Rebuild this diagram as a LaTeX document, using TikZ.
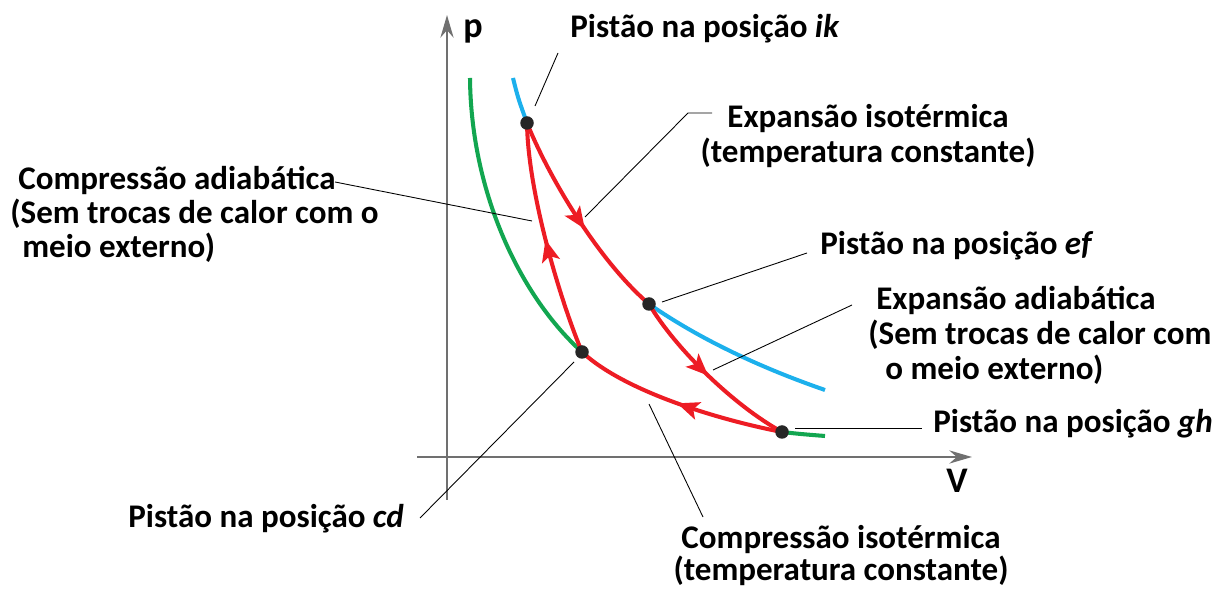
\documentclass[tikz,border=0pt]{standalone}
\usepackage{fontspec}
\setmainfont{Carlito}
\usepackage{xcolor}
\definecolor{CycleRed}{HTML}{ED1C24}
\definecolor{HotBlue}{HTML}{1CB0EC}
\definecolor{ColdGreen}{HTML}{12A650}
\definecolor{AxisGray}{HTML}{707070}
\usetikzlibrary{arrows.meta, positioning, decorations.markings}
\tikzset{
  axisline/.style={draw=AxisGray, line width=1.7pt, -{Stealth[length=0.45cm, width=0.26cm]}},
  hotline/.style={draw=HotBlue, line width=2.3pt},
  coldline/.style={draw=ColdGreen, line width=2.3pt},
  cycleline/.style={color=CycleRed, line width=2.3pt, postaction={decorate},
    decoration={markings, mark=at position #1 with {\arrow{Stealth[length=0.44cm, width=0.36cm, inset=0.1cm]}}}},
  cycleline/.default=0.5,
  leader/.style={draw=black, line width=0.5pt},
  statedot/.style={circle, fill=black!85, inner sep=0pt, minimum size=0.27cm},
  labeltext/.style={font=\fontsize{18.8}{19.3}\selectfont\bfseries, inner sep=0pt, text=black},
  widetext/.style={labeltext, font=\fontsize{18.8}{19.9}\selectfont\bfseries},
  axislabel/.style={font=\fontsize{20.5}{24}\selectfont\bfseries, inner sep=0pt}
}

\begin{document}
\begin{tikzpicture}[x=0.02cm, y=-0.02cm]
  \useasboundingbox (0,0) rectangle (1217,590);

  \coordinate (yBot) at (447,500);
  \coordinate (yTop) at (447,15);
  \coordinate (xLeft) at (417,457);
  \coordinate (xRight) at (972,457);
  \draw[axisline] (yBot) -- (yTop);
  \draw[axisline] (xLeft) -- (xRight);
  \node[axislabel, anchor=base west] (plbl) at (463,38) {p};
  \node[axislabel, anchor=base west] (vlbl) at (946,493) {V};

  \coordinate (ik) at (527,123);
  \coordinate (ef) at (649,304);
  \coordinate (gh) at (782,432);
  \coordinate (cd) at (582,352);
  \coordinate (hotTop) at (513,78);
  \coordinate (hotEnd) at (825,390);
  \coordinate (coldTop) at (470,78);
  \coordinate (coldEnd) at (825,436);

  \draw[hotline] (hotTop) .. controls (518,98) .. (ik);
  \draw[hotline] (ef) .. controls (705,343) and (770,371) .. (hotEnd);
  \draw[coldline] (coldTop) .. controls (471,195) and (522,298) .. (cd);
  \draw[coldline] (gh) .. controls (800,434) .. (coldEnd);

  \draw[cycleline=0.55] (ik) .. controls (550,180) and (600,262) .. (ef);
  \draw[cycleline=0.5] (ef) .. controls (675,348) and (733,405) .. (gh);
  \draw[cycleline=0.5] (gh) .. controls (720,420) and (625,392) .. (cd);
  \draw[cycleline=0.5] (cd) .. controls (562,305) and (528,195) .. (ik);

  \node[statedot] (ikdot) at (ik) {};
  \node[statedot] (efdot) at (ef) {};
  \node[statedot] (ghdot) at (gh) {};
  \node[statedot] (cddot) at (cd) {};

  \node[labeltext, anchor=base west] (lblIK) at (570,38) {Pistão na posição \textit{ik}};
  \node[widetext, align=center, anchor=north] (lblExpIso) at (868,104) {Expansão isotérmica\\(temperatura constante)};
  \node[labeltext, align=left, anchor=north west] (lblCompAd) at (10,166) {\hspace*{0.16cm}Compressão adiabática\\(Sem trocas de calor com o\\\hspace*{0.24cm}meio externo)};
  \node[labeltext, anchor=base west] (lblEF) at (820,255) {Pistão na posição \textit{ef}};
  \node[widetext, align=left, anchor=north west] (lblExpAd) at (868,286) {\hspace*{0.16cm}Expansão adiabática\\(Sem trocas de calor com\\\hspace*{0.34cm}o meio externo)};
  \node[labeltext, anchor=base west] (lblGH) at (933,433) {Pistão na posição \textit{gh}};
  \node[labeltext, anchor=base west] (lblCD) at (128,528) {Pistão na posição \textit{cd}};
  \node[labeltext, font=\fontsize{18.8}{18.4}\selectfont\bfseries, align=center, anchor=north] (lblCompIso) at (841,525) {Compressão isotérmica\\(temperatura constante)};

  \coordinate (ikLeadA) at (535,106);
  \coordinate (ikLeadB) at (558,53);
  \coordinate (expIsoA) at (585,217);
  \coordinate (expIsoB) at (688,113);
  \coordinate (expIsoC) at (712,113);
  \coordinate (compAdA) at (532,221);
  \coordinate (compAdB) at (335,182);
  \coordinate (efLeadA) at (662,302);
  \coordinate (efLeadB) at (807,253);
  \coordinate (expAdA) at (713,370);
  \coordinate (expAdB) at (852,305);
  \coordinate (ghLeadA) at (795,428);
  \coordinate (ghLeadB) at (922,428);
  \coordinate (cdLeadA) at (574,362);
  \coordinate (cdLeadB) at (420,518);
  \coordinate (compIsoA) at (649,404);
  \coordinate (compIsoB) at (703,517);

  \draw[leader] (ikLeadA) -- (ikLeadB);
  \draw[leader] (expIsoA) -- (expIsoB) -- (expIsoC);
  \draw[leader] (compAdA) -- (compAdB);
  \draw[leader] (efLeadA) -- (efLeadB);
  \draw[leader] (expAdA) -- (expAdB);
  \draw[leader] (ghLeadA) -- (ghLeadB);
  \draw[leader] (cdLeadA) -- (cdLeadB);
  \draw[leader] (compIsoA) -- (compIsoB);
\end{tikzpicture}
\end{document}
